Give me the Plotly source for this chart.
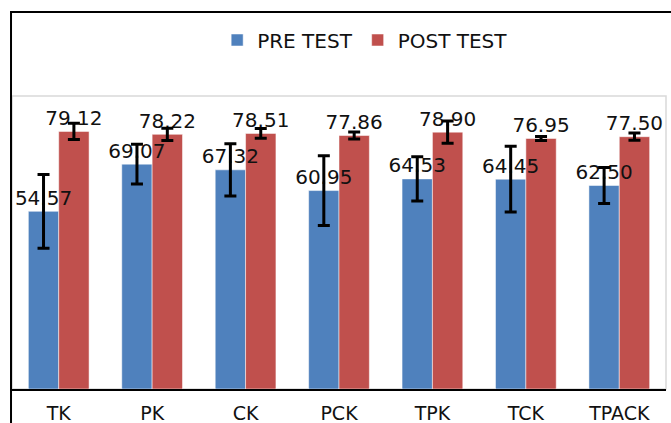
import plotly.graph_objects as go

categories = ["TK", "PK", "CK", "PCK", "TPK", "TCK", "TPACK"]
pre_test = [54.57, 69.07, 67.32, 60.95, 64.53, 64.45, 62.50]
post_test = [79.12, 78.22, 78.51, 77.86, 78.90, 76.95, 77.50]
pre_err = [11.3, 6.1, 8.0, 10.7, 6.8, 10.1, 5.5]
post_err = [2.5, 1.9, 1.5, 1.1, 3.4, 0.6, 1.1]

BLUE = "#4F81BD"
RED = "#C0504D"

W, H = 671, 423
L, R, T, B = 12, 5, 96, 34

series = [("PRE TEST", "pre", pre_test, pre_err, BLUE),
          ("POST TEST", "post", post_test, post_err, RED)]

fig = go.Figure()
for name, grp, vals, errs, col in series:
    fig.add_trace(go.Bar(
        name=name, x=categories, y=vals, offsetgroup=grp,
        marker=dict(color=col, line=dict(color="rgba(255,255,255,0.5)", width=1)),
    ))
# value labels above all bars
for name, grp, vals, errs, col in series:
    fig.add_trace(go.Scatter(
        x=categories, y=vals, offsetgroup=grp, mode="markers+text",
        marker=dict(size=1, opacity=0), showlegend=False, hoverinfo="skip",
        text=[f"{v:.2f}" for v in vals], textposition="top center",
        cliponaxis=False,
        textfont=dict(family="DejaVu Sans", size=20, color="#111111"),
    ))
# error bars drawn on top of the labels
for name, grp, vals, errs, col in series:
    fig.add_trace(go.Scatter(
        x=categories, y=vals, offsetgroup=grp, mode="markers",
        marker=dict(size=1, opacity=0), showlegend=False, hoverinfo="skip",
        error_y=dict(type="data", array=errs, visible=True, color="black",
                     thickness=3, width=6),
        cliponaxis=False,
    ))

plot_h = H - T - B
fig.add_shape(type="rect", xref="paper", yref="paper", x0=0, x1=1, y0=0, y1=1,
              line=dict(color="#d9d9d9", width=1.5), layer="below")
fig.add_shape(type="rect", xref="paper", yref="paper",
              x0=-0.0015, x1=1.2, y0=-0.4, y1=(plot_h + T - 12) / plot_h,
              line=dict(color="black", width=2), layer="above")

fig.update_layout(
    width=W, height=H,
    margin=dict(l=L, r=R, t=T, b=B, pad=0, autoexpand=False),
    paper_bgcolor="white", plot_bgcolor="white",
    barmode="group", bargap=0.35, bargroupgap=0,
    scattermode="group", scattergap=0.35,
    showlegend=True,
    legend=dict(orientation="h", x=0.540, xanchor="center", y=(plot_h + T - 40) / plot_h,
                yanchor="middle", font=dict(family="DejaVu Sans", size=20, color="#111111"),
                bgcolor="rgba(0,0,0,0)", itemwidth=30),
    xaxis=dict(showline=True, linecolor="black", linewidth=1.5, ticks="",
               tickfont=dict(family="DejaVu Sans", size=19, color="#111111"),
               ticklabelstandoff=6, automargin=False,
               showgrid=False, zeroline=False),
    yaxis=dict(range=[0, 90], showticklabels=False, showgrid=False, zeroline=False,
               showline=True, linecolor="black", linewidth=2, ticks="", automargin=False),
)

fig.write_html("out.html", config={"displayModeBar": False},
               post_script="document.body.style.margin='0';")
